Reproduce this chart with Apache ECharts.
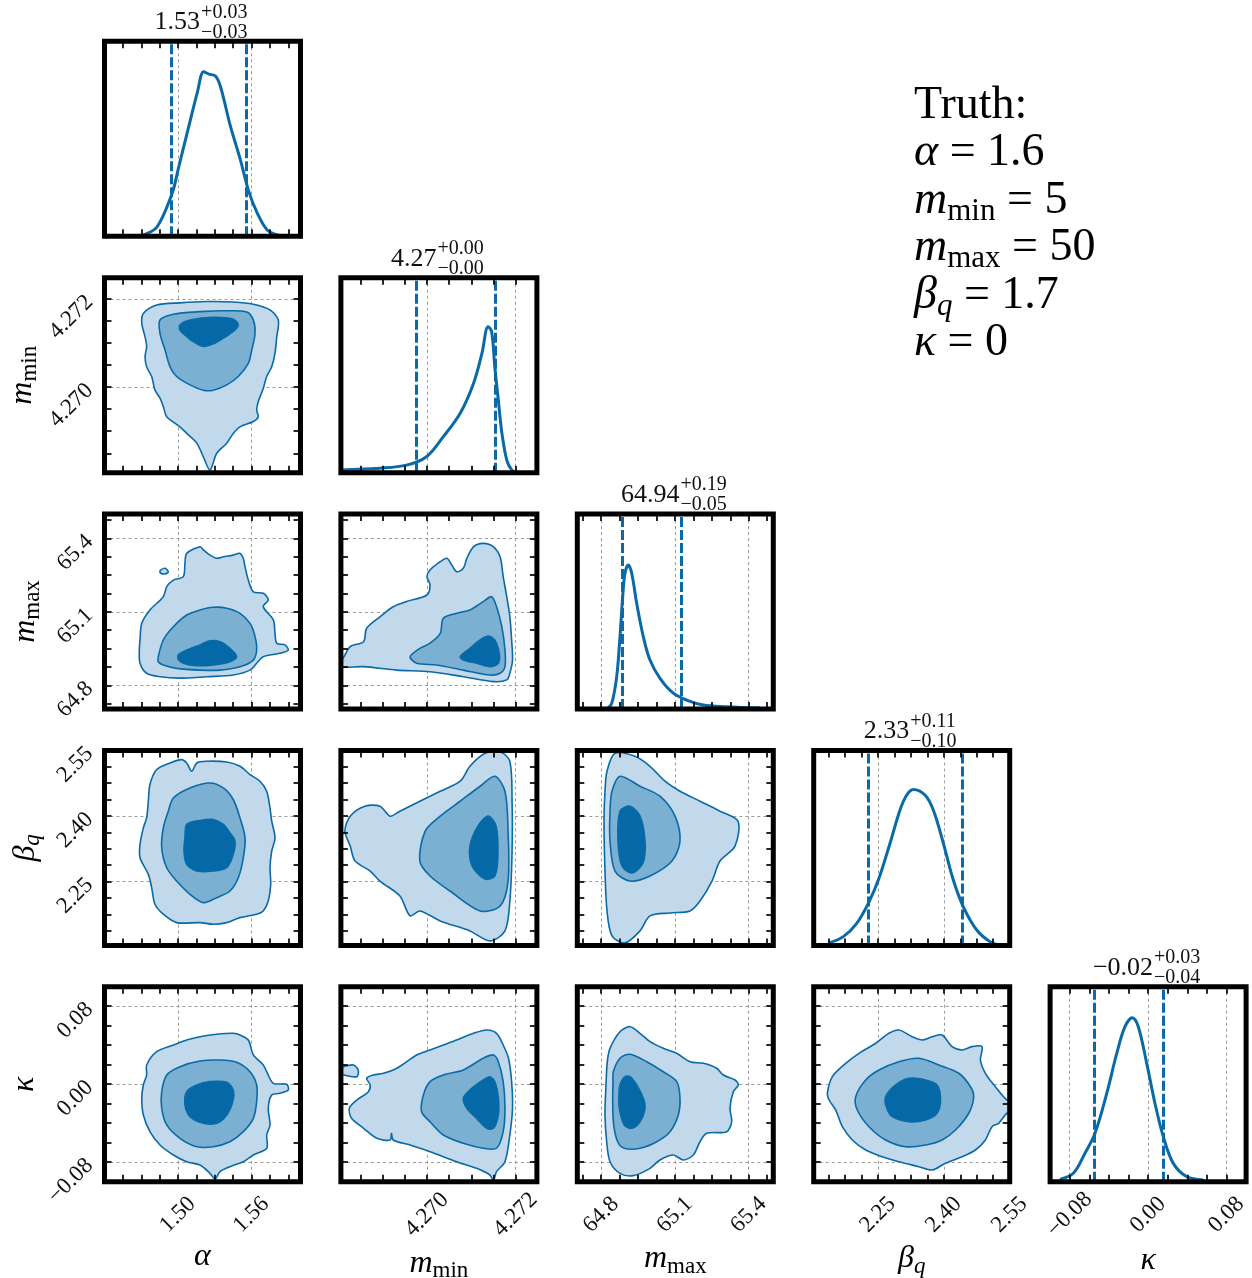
<!DOCTYPE html>
<html><head><meta charset="utf-8">
<script src="https://cdn.jsdelivr.net/npm/echarts@6/dist/echarts.min.js"></script>
<style>html,body{margin:0;padding:0;background:#fff}#c{width:1252px;height:1278px}</style>
</head><body><div id="c"></div>
<script>
// ---------------- DATA ----------------
const paramNames = ['{i|α}', '{i|m}{s|min}', '{i|m}{s|max}', '{i|β}{si|q}', '{i|κ}'];
const axisMin = [1.44, 4.26806, 64.703, 2.104, -0.1];
const axisMax = [1.60, 4.27248, 65.50, 2.55, 0.1];
const minorStep = [0.015, 0.0005, 0.075, 0.0375, 0.02];
const majorStep = [0.06, 0.002, 0.3, 0.15, 0.08];
const tickLabels = [[1.50, 1.56], [4.270, 4.272], [64.8, 65.1, 65.4], [2.25, 2.40, 2.55], [-0.08, 0.00, 0.08]];
const tickDecimals = [2, 3, 1, 2, 2];
const titleMain = ['1.53', '4.27', '64.94', '2.33', '−0.02'];
const titleUp = ['+0.03', '+0.00', '+0.19', '+0.11', '+0.03'];
const titleDown = ['−0.03', '−0.00', '−0.05', '−0.10', '−0.04'];
const q16 = [1.4943, 4.26977, 64.8876, 2.2283, -0.0549];
const q84 = [1.5561, 4.27153, 65.1247, 2.4431, 0.0155];
const truthText = 'Truth:\n{i|α} = 1.6\n{i|m}{s|min} = 5\n{i|m}{s|max} = 50\n{i|β}{si|q} = 1.7\n{i|κ} = 0';

// 1D marginal densities (normalised)
const kdeAlphaX = [1.466, 1.472, 1.483, 1.4953, 1.50, 1.5075, 1.5157, 1.521, 1.5251, 1.5306, 1.5347, 1.5429, 1.551, 1.5578, 1.5647, 1.5728, 1.581, 1.588];
const kdeAlphaY = [0, 0.007, 0.049, 0.222, 0.34, 0.53, 0.735, 0.844, 0.832, 0.822, 0.767, 0.562, 0.391, 0.229, 0.119, 0.032, 0.007, 0];
const kdeMminX = [4.26806, 4.26811, 4.26894, 4.26954, 4.26999, 4.27037, 4.27075, 4.27105, 4.27124, 4.27138, 4.27146, 4.27153, 4.27161, 4.27169, 4.2718, 4.27191, 4.272];
const kdeMminY = [0.012, 0.014, 0.023, 0.039, 0.082, 0.185, 0.305, 0.458, 0.612, 0.749, 0.723, 0.544, 0.373, 0.204, 0.065, 0.014, 0];
const kdeMmaxX = [64.8225, 64.8429, 64.8632, 64.8766, 64.8876, 64.897, 64.9104, 64.9242, 64.9445, 64.9714, 64.9986, 65.0393, 65.0933, 65.1478, 65.2153, 65.3105, 65.4459];
const kdeMmaxY = [0, 0.029, 0.166, 0.371, 0.576, 0.696, 0.738, 0.696, 0.542, 0.371, 0.251, 0.157, 0.081, 0.046, 0.021, 0.012, 0.005];
const kdeBetaX = [2.1372, 2.1714, 2.2019, 2.2283, 2.2511, 2.2777, 2.3004, 2.3157, 2.3307, 2.3573, 2.3762, 2.3990, 2.4217, 2.4445, 2.4750, 2.5053, 2.5280];
const kdeBetaY = [0.011, 0.045, 0.113, 0.216, 0.335, 0.524, 0.694, 0.771, 0.8, 0.771, 0.694, 0.524, 0.335, 0.198, 0.079, 0.019, 0.002];
const kdeKappaX = [-0.0899, -0.0763, -0.0644, -0.0542, -0.0422, -0.032, -0.0236, -0.0161, -0.01, -0.0014, 0.007, 0.0155, 0.0257, 0.0394, 0.0563];
const kdeKappaY = [0.012, 0.043, 0.146, 0.248, 0.453, 0.658, 0.795, 0.841, 0.795, 0.607, 0.402, 0.231, 0.094, 0.026, 0.009];

// 2D credible contours: level 1 (outer), 2, 3 (inner)
const cMminAlpha1 = [[1.4704,4.27145],[1.4717,4.27167],[1.4826,4.27186],[1.5016,4.27191],[1.5234,4.27194],[1.5451,4.27193],[1.5615,4.27188],[1.5751,4.27175],[1.5819,4.27152],[1.5806,4.27114],[1.5792,4.27077],[1.5765,4.27046],[1.5724,4.27024],[1.5696,4.26997],[1.5655,4.26967],[1.5642,4.26948],[1.5655,4.26933],[1.5615,4.26922],[1.5506,4.2691],[1.5451,4.26895],[1.5398,4.26873],[1.5316,4.2685],[1.5261,4.26812],[1.5207,4.26842],[1.5153,4.26873],[1.5071,4.26895],[1.5016,4.2691],[1.4908,4.26933],[1.488,4.26956],[1.4853,4.26975],[1.4812,4.26993],[1.4798,4.27009],[1.4785,4.27024],[1.4744,4.27046],[1.4731,4.27069],[1.4744,4.27092],[1.4731,4.27114]];
const cMminAlpha2 = [[1.4853,4.27152],[1.4962,4.27165],[1.518,4.27171],[1.5398,4.27173],[1.5561,4.2717],[1.5615,4.27152],[1.5629,4.27122],[1.5602,4.27084],[1.5574,4.27054],[1.5492,4.27024],[1.5398,4.27005],[1.5288,4.26993],[1.5207,4.26993],[1.5098,4.27005],[1.4989,4.27024],[1.4935,4.27046],[1.4894,4.27084],[1.4853,4.27122]];
const cMminAlpha3 = [[1.5016,4.27141],[1.5098,4.27152],[1.5288,4.27158],[1.5451,4.27154],[1.5492,4.27141],[1.5451,4.27126],[1.537,4.27111],[1.5288,4.27098],[1.5207,4.27092],[1.5125,4.27103],[1.5057,4.27118],[1.5016,4.27129]];

const cMmaxAlpha1 = [[1.469,64.985],[1.4704,65.053],[1.4771,65.108],[1.488,65.162],[1.4908,65.203],[1.4962,65.23],[1.5043,65.244],[1.5057,65.299],[1.5071,65.339],[1.518,65.366],[1.5207,65.353],[1.5261,65.332],[1.5316,65.319],[1.537,65.325],[1.5451,65.332],[1.5506,65.339],[1.5533,65.319],[1.5547,65.285],[1.5574,65.23],[1.5615,65.182],[1.5696,65.176],[1.5737,65.149],[1.5696,65.121],[1.5778,65.067],[1.5792,65.012],[1.5806,64.972],[1.5873,64.965],[1.59,64.944],[1.5833,64.931],[1.5696,64.917],[1.5642,64.89],[1.5588,64.862],[1.5451,64.842],[1.5234,64.835],[1.5016,64.829],[1.4853,64.835],[1.4744,64.849],[1.469,64.89],[1.4684,64.944]];
const cMmaxAlphaIsland = [[1.4853,65.268],[1.4894,65.278],[1.4921,65.264],[1.4894,65.255],[1.4859,65.258]];
const cMmaxAlpha2 = [[1.4839,64.917],[1.488,64.985],[1.4962,65.039],[1.5071,65.087],[1.518,65.108],[1.5288,65.119],[1.5398,65.115],[1.5506,65.094],[1.5588,65.053],[1.5629,64.999],[1.5642,64.944],[1.5615,64.903],[1.5506,64.876],[1.5343,64.862],[1.518,64.862],[1.4989,64.869],[1.488,64.883],[1.4839,64.896]];
const cMmaxAlpha3 = [[1.5002,64.924],[1.5071,64.944],[1.518,64.965],[1.5261,64.982],[1.5343,64.978],[1.5424,64.951],[1.5479,64.917],[1.5424,64.896],[1.5288,64.883],[1.5153,64.88],[1.5043,64.89],[1.5002,64.906]];

const cBetaAlpha1 = [[1.4826,2.5062],[1.4935,2.5212],[1.503,2.529],[1.5071,2.5212],[1.5112,2.5023],[1.5153,2.5212],[1.5234,2.5251],[1.5398,2.5235],[1.5506,2.5137],[1.5588,2.4947],[1.5669,2.4795],[1.5724,2.4566],[1.5751,2.4185],[1.5765,2.3882],[1.5792,2.3501],[1.5765,2.3197],[1.5751,2.2816],[1.5757,2.2437],[1.5737,2.2056],[1.5696,2.1828],[1.5642,2.1753],[1.5506,2.1675],[1.5398,2.1561],[1.5288,2.1524],[1.518,2.1561],[1.4989,2.1561],[1.488,2.1753],[1.4812,2.1981],[1.4785,2.236],[1.4758,2.2665],[1.469,2.3044],[1.469,2.335],[1.4717,2.3729],[1.4744,2.3957],[1.4758,2.4338],[1.4771,2.4719]];
const cBetaAlpha2 = [[1.4962,2.4413],[1.5098,2.4642],[1.5261,2.4756],[1.537,2.4642],[1.5451,2.4377],[1.5506,2.3957],[1.5547,2.3501],[1.5533,2.3044],[1.5492,2.2588],[1.5424,2.2284],[1.5316,2.2131],[1.5207,2.2017],[1.5098,2.2209],[1.4989,2.2512],[1.4908,2.2816],[1.4867,2.3272],[1.488,2.3729],[1.4921,2.411]];
const cBetaAlpha3 = [[1.5071,2.3806],[1.518,2.3898],[1.5288,2.3921],[1.537,2.3806],[1.5424,2.3615],[1.5465,2.3425],[1.5451,2.3122],[1.5398,2.2816],[1.5288,2.2741],[1.5153,2.2741],[1.5071,2.2894],[1.5049,2.3197],[1.5057,2.3501]];

const cKappaAlpha1 = [[1.4744,0.0197],[1.4826,0.0333],[1.4962,0.0402],[1.5071,0.0453],[1.518,0.0487],[1.5316,0.0512],[1.5451,0.0522],[1.5506,0.0505],[1.5574,0.0453],[1.5615,0.03],[1.5696,0.0197],[1.5724,0.0128],[1.5778,0.0009],[1.5887,-0.0001],[1.59,-0.0059],[1.5833,-0.0093],[1.5765,-0.0111],[1.5737,-0.0247],[1.5751,-0.0418],[1.5724,-0.0521],[1.5724,-0.0657],[1.5615,-0.0726],[1.5533,-0.0795],[1.5424,-0.0846],[1.5343,-0.0897],[1.5302,-0.0972],[1.5261,-0.0914],[1.518,-0.0829],[1.5071,-0.0795],[1.4962,-0.0726],[1.4853,-0.0624],[1.4771,-0.0487],[1.4717,-0.0316],[1.4704,-0.0145],[1.4717,-0.0008],[1.4744,0.0094]];
const cKappaAlpha2 = [[1.4908,0.0094],[1.5016,0.018],[1.518,0.0238],[1.5343,0.0248],[1.5479,0.0225],[1.5588,0.0128],[1.5642,-0.0008],[1.5642,-0.0179],[1.5615,-0.035],[1.5533,-0.0487],[1.5424,-0.059],[1.5288,-0.0641],[1.5153,-0.0641],[1.5016,-0.0555],[1.4908,-0.0418],[1.4867,-0.0247],[1.4867,-0.0077]];
const cKappaAlpha3 = [[1.5071,-0.0077],[1.5153,-0.0008],[1.5261,0.0026],[1.5398,0.002],[1.5451,-0.0059],[1.5447,-0.0179],[1.5398,-0.0316],[1.5316,-0.0401],[1.5207,-0.0401],[1.5098,-0.0333],[1.5057,-0.0213]];

const cMmaxMmin1 = [[4.268,64.876],[4.268,64.903],[4.26808,64.903],[4.26827,64.958],[4.26857,64.978],[4.26864,65.033],[4.26894,65.08],[4.26924,65.121],[4.26954,65.142],[4.27,65.169],[4.27007,65.21],[4.27,65.244],[4.27007,65.271],[4.2703,65.305],[4.27045,65.319],[4.27056,65.292],[4.27067,65.264],[4.27082,65.278],[4.2709,65.319],[4.27105,65.366],[4.27127,65.38],[4.2715,65.366],[4.27165,65.325],[4.27172,65.244],[4.2718,65.162],[4.27187,65.08],[4.27191,64.985],[4.27193,64.903],[4.27187,64.849],[4.2718,64.822],[4.2715,64.815],[4.27082,64.835],[4.27007,64.855],[4.26932,64.862],[4.26857,64.876]];
const cMmaxMmin2 = [[4.26962,64.917],[4.26984,64.951],[4.27007,64.972],[4.2703,65.012],[4.27037,65.074],[4.27067,65.094],[4.27097,65.108],[4.27127,65.142],[4.27146,65.162],[4.27157,65.121],[4.27169,65.039],[4.27176,64.944],[4.27176,64.876],[4.27165,64.849],[4.27142,64.842],[4.27082,64.862],[4.27022,64.883],[4.26977,64.89]];
const cMmaxMmin3 = [[4.27075,64.917],[4.27097,64.951],[4.2712,64.985],[4.27138,65.001],[4.27153,64.985],[4.27163,64.931],[4.27161,64.89],[4.27142,64.876],[4.27112,64.89],[4.27082,64.903]];

const cBetaMmin1 = [[4.26815,2.3654],[4.26827,2.3996],[4.2686,2.4224],[4.26894,2.4224],[4.26917,2.3996],[4.26939,2.411],[4.26984,2.4338],[4.2703,2.4566],[4.27075,2.4795],[4.27097,2.5137],[4.27131,2.5433],[4.27165,2.547],[4.27187,2.5251],[4.27192,2.4338],[4.27192,2.3197],[4.27187,2.2056],[4.27176,2.1372],[4.27142,2.1143],[4.27097,2.1372],[4.2703,2.16],[4.26984,2.1828],[4.26962,2.1714],[4.26939,2.217],[4.26894,2.2512],[4.26872,2.274],[4.26838,2.2969],[4.26827,2.3311]];
const cBetaMmin2 = [[4.26984,2.2969],[4.26996,2.3654],[4.2703,2.3996],[4.27075,2.4338],[4.2712,2.468],[4.27153,2.4909],[4.27176,2.4566],[4.27183,2.3654],[4.27183,2.2512],[4.27165,2.1942],[4.2712,2.1828],[4.27052,2.2284],[4.27007,2.2627]];
const cBetaMmin3 = [[4.27097,2.3311],[4.27115,2.3768],[4.27138,2.3996],[4.27156,2.3768],[4.2716,2.3083],[4.27153,2.2627],[4.27131,2.2558],[4.27102,2.2855]];

const cKappaMminIsland = [[4.268,0.018],[4.26811,0.018],[4.26834,0.0197],[4.26845,0.0146],[4.26842,0.0077],[4.26811,0.0094],[4.268,0.0094]];
const cKappaMmin1 = [[4.26864,0.006],[4.26879,0.0094],[4.26902,0.0112],[4.26932,0.0163],[4.26977,0.03],[4.27007,0.0351],[4.27037,0.0402],[4.27067,0.0453],[4.27105,0.0522],[4.27135,0.0556],[4.27157,0.0522],[4.27172,0.0402],[4.27184,0.0266],[4.27191,0.0026],[4.27193,-0.0247],[4.27187,-0.0521],[4.27176,-0.0795],[4.27157,-0.0897],[4.2715,-0.0983],[4.27142,-0.0931],[4.27112,-0.0863],[4.27067,-0.0795],[4.27007,-0.0692],[4.26962,-0.0624],[4.26924,-0.0572],[4.2692,-0.0504],[4.26917,-0.0572],[4.26887,-0.0555],[4.26857,-0.0452],[4.2683,-0.035],[4.26825,-0.0247],[4.26842,-0.0162],[4.26868,-0.0077],[4.26872,-0.0008]];
const cKappaMmin2 = [[4.26992,-0.0111],[4.27007,0.0026],[4.27037,0.0094],[4.27082,0.0146],[4.27127,0.0266],[4.2715,0.03],[4.27161,0.0231],[4.27172,0.0026],[4.27176,-0.0247],[4.27172,-0.0487],[4.27157,-0.0657],[4.27127,-0.0657],[4.27082,-0.0606],[4.27037,-0.0521],[4.27007,-0.0385],[4.26988,-0.0282]];
const cKappaMmin3 = [[4.27082,-0.0145],[4.27097,-0.0059],[4.27127,0.0043],[4.27142,0.0077],[4.27153,0.0026],[4.27161,-0.0145],[4.27161,-0.0316],[4.2715,-0.0452],[4.27135,-0.0452],[4.27112,-0.035],[4.2709,-0.0247]];

const cBetaMmax1 = [[64.8238,2.5023],[64.8563,2.5433],[64.9376,2.5365],[64.9986,2.5137],[65.0596,2.4795],[65.1206,2.4566],[65.2019,2.4338],[65.2832,2.411],[65.3564,2.3882],[65.3442,2.3311],[65.2832,2.2969],[65.2507,2.2512],[65.2019,2.2056],[65.1612,2.1828],[65.08,2.1782],[64.9986,2.1714],[64.958,2.1372],[64.897,2.1098],[64.8441,2.1258],[64.8238,2.1828],[64.8156,2.274],[64.8116,2.3882],[64.8156,2.4566]];
const cBetaMmax2 = [[64.8441,2.4566],[64.8766,2.4909],[64.958,2.468],[65.0393,2.4452],[65.1003,2.3996],[65.1206,2.3425],[65.0881,2.2969],[64.9986,2.2627],[64.9173,2.2512],[64.8563,2.274],[64.836,2.3425],[64.836,2.411]];
const cBetaMmax3 = [[64.8766,2.411],[64.9173,2.4224],[64.958,2.3996],[64.9783,2.3425],[64.9701,2.2923],[64.9254,2.2695],[64.8847,2.2855],[64.8685,2.3425]];

const cKappaMmax1 = [[64.836,0.0368],[64.8766,0.0538],[64.9173,0.059],[64.958,0.0522],[64.9986,0.0436],[65.0527,0.0368],[65.1072,0.0317],[65.1612,0.0231],[65.2153,0.0214],[65.2698,0.0163],[65.2966,0.0094],[65.3442,0.0043],[65.3576,-0.0008],[65.3373,-0.0077],[65.3239,-0.0247],[65.3308,-0.0385],[65.3105,-0.0487],[65.2292,-0.0504],[65.2019,-0.059],[65.1747,-0.0726],[65.134,-0.0777],[65.0933,-0.0726],[65.0393,-0.0777],[64.9986,-0.0863],[64.9307,-0.0938],[64.8766,-0.0914],[64.836,-0.0795],[64.8225,-0.059],[64.8156,-0.0316],[64.8197,-0.0008],[64.825,0.0231]];
const cKappaMmax2 = [[64.8494,0.0128],[64.8766,0.0266],[64.9173,0.0307],[64.9852,0.0231],[65.0527,0.0128],[65.1072,0.0026],[65.1206,-0.0145],[65.1137,-0.0316],[65.08,-0.0487],[65.0258,-0.059],[64.958,-0.0657],[64.894,-0.0657],[64.8672,-0.059],[64.8509,-0.0418],[64.8469,-0.0179],[64.8481,0.0026]];
const cKappaMmax3 = [[64.8766,-0.0008],[64.897,0.0077],[64.9173,0.0077],[64.9445,-0.0008],[64.9714,-0.0145],[64.9783,-0.0247],[64.958,-0.0385],[64.9242,-0.0452],[64.894,-0.0418],[64.8738,-0.0247],[64.8726,-0.0111]];

const cKappaBeta1 = [[2.1351,-0.0093],[2.1465,0.0077],[2.1769,0.0214],[2.2071,0.0317],[2.245,0.042],[2.2752,0.0522],[2.2979,0.0556],[2.3281,0.0487],[2.3508,0.0453],[2.3735,0.0487],[2.3962,0.0505],[2.4189,0.0385],[2.4416,0.0351],[2.4643,0.0385],[2.487,0.0385],[2.4834,0.0248],[2.4947,0.0112],[2.5174,-0.0026],[2.5437,-0.0162],[2.556,-0.0162],[2.556,-0.0298],[2.5437,-0.0298],[2.5249,-0.0401],[2.5097,-0.0436],[2.4947,-0.0572],[2.472,-0.0675],[2.4416,-0.0744],[2.4039,-0.0811],[2.3735,-0.088],[2.3433,-0.0846],[2.2979,-0.0795],[2.26,-0.0744],[2.2223,-0.0675],[2.1919,-0.0572],[2.1692,-0.0436],[2.1542,-0.0265],[2.139,-0.0162]];
const cKappaBeta2 = [[2.1996,-0.0128],[2.2223,0.0043],[2.2525,0.0146],[2.2979,0.0231],[2.3433,0.0266],[2.3887,0.0197],[2.4341,0.0112],[2.4607,-0.0026],[2.4681,-0.0128],[2.4568,-0.0298],[2.4266,-0.047],[2.3962,-0.0572],[2.3585,-0.0624],[2.3131,-0.0641],[2.2677,-0.0572],[2.2298,-0.0436],[2.2032,-0.0265]];
const cKappaBeta3 = [[2.2677,-0.0128],[2.2904,-0.0008],[2.3206,0.006],[2.3585,0.0043],[2.3848,-0.0008],[2.3926,-0.0162],[2.3848,-0.0298],[2.3585,-0.0367],[2.3206,-0.0385],[2.2827,-0.0333],[2.2691,-0.0231]];

const kdeX = [kdeAlphaX, kdeMminX, kdeMmaxX, kdeBetaX, kdeKappaX];
const kdeY = [kdeAlphaY, kdeMminY, kdeMmaxY, kdeBetaY, kdeKappaY];
// [polygon, level]  (row,col)
const contourSets = {
  '1,0': [[cMminAlpha1,0],[cMminAlpha2,1],[cMminAlpha3,2]],
  '2,0': [[cMmaxAlpha1,0],[cMmaxAlphaIsland,0],[cMmaxAlpha2,1],[cMmaxAlpha3,2]],
  '3,0': [[cBetaAlpha1,0],[cBetaAlpha2,1],[cBetaAlpha3,2]],
  '4,0': [[cKappaAlpha1,0],[cKappaAlpha2,1],[cKappaAlpha3,2]],
  '2,1': [[cMmaxMmin1,0],[cMmaxMmin2,1],[cMmaxMmin3,2]],
  '3,1': [[cBetaMmin1,0],[cBetaMmin2,1],[cBetaMmin3,2]],
  '4,1': [[cKappaMminIsland,0],[cKappaMmin1,0],[cKappaMmin2,1],[cKappaMmin3,2]],
  '3,2': [[cBetaMmax1,0],[cBetaMmax2,1],[cBetaMmax3,2]],
  '4,2': [[cKappaMmax1,0],[cKappaMmax2,1],[cKappaMmax3,2]],
  '4,3': [[cKappaBeta1,0],[cKappaBeta2,1],[cKappaBeta3,2]]
};

// ---------------- LAYOUT / STYLE ----------------
const FONT = '"Liberation Serif", "DejaVu Serif", serif';
const PL = [104.5, 340.9, 577.3, 813.7, 1050.1];
const PT = [41.3, 277.7, 514, 750.4, 986.7];
const PW = 196, PH = 195;
const BLUE = '#0a6aa7';
const FILLS = ['#c1d9ea', '#7cb0d2', '#0569a7'];

function fmtTick(v, p) {
  for (const t of tickLabels[p]) {
    if (Math.abs(v - t) < minorStep[p] * 0.02) {
      let s = t.toFixed(tickDecimals[p]);
      if (t < -1e-12) s = '−' + s.slice(1);
      return s;
    }
  }
  return '';
}
const nameRich = {
  i: {fontFamily: FONT, fontStyle: 'italic', fontSize: 32, lineHeight: 38, color: '#000'},
  s: {fontFamily: FONT, fontSize: 23, padding: [15, 0, 0, 0], lineHeight: 38, color: '#000'},
  si: {fontFamily: FONT, fontStyle: 'italic', fontSize: 23, padding: [15, 0, 0, 0], lineHeight: 38, color: '#000'}
};
const truthRich = {
  i: {fontFamily: FONT, fontStyle: 'italic', fontSize: 46, lineHeight: 47.5, color: '#000'},
  s: {fontFamily: FONT, fontSize: 31, padding: [22, 0, 0, 0], lineHeight: 47.5, color: '#000'},
  si: {fontFamily: FONT, fontStyle: 'italic', fontSize: 31, padding: [22, 0, 0, 0], lineHeight: 47.5, color: '#000'}
};
const tickStyle = {show: true, inside: true, length: 7, lineStyle: {color: '#000', width: 1.7}};
const gridLineStyle = {show: true, lineStyle: {color: '#909090', width: 0.9, type: [3, 3]}};

function valueAxis(g, p, extra) {
  return Object.assign({
    gridIndex: g, type: 'value', min: axisMin[p], max: axisMax[p],
    axisLine: {show: false, onZero: false}, splitLine: {show: false},
    axisTick: {show: false}, axisLabel: {show: false}
  }, extra);
}

const grids = [], xAxes = [], yAxes = [], series = [], graphics = [];
for (let r = 0; r < 5; r++) {
  for (let c = 0; c <= r; c++) {
    const g = grids.length;
    grids.push({left: PL[c], top: PT[r], width: PW, height: PH, show: true,
      backgroundColor: 'rgba(0,0,0,0)', borderColor: '#000', borderWidth: 5, z: 10,
      containLabel: false, outerBoundsMode: 'none'});
    const xi = xAxes.length, yi = yAxes.length;
    const showX = r === 4, showY = (c === 0 && r > 0);
    xAxes.push(valueAxis(g, c, {position: 'bottom', z: 11, minInterval: minorStep[c], maxInterval: minorStep[c],
      axisTick: tickStyle,
      axisLabel: {show: showX, rotate: 45, align: 'center', verticalAlign: 'middle', margin: 33,
        fontFamily: FONT, fontSize: 23, color: '#111', formatter: v => fmtTick(v, c),
        showMinLabel: true, showMaxLabel: true},
      name: showX ? paramNames[c] : '', nameLocation: 'middle', nameGap: 56,
      nameTextStyle: {rich: nameRich, fontFamily: FONT, fontSize: 32, color: '#000'}}));
    xAxes.push(valueAxis(g, c, {position: 'top', z: 11, minInterval: minorStep[c], maxInterval: minorStep[c], axisTick: tickStyle}));
    xAxes.push(valueAxis(g, c, {position: 'bottom', z: 1, minInterval: majorStep[c], maxInterval: majorStep[c], splitLine: gridLineStyle}));
    if (r === c) {
      yAxes.push({gridIndex: g, type: 'value', min: 0, max: 1, show: false, axisLine: {onZero: false}});
      series.push({type: 'line', xAxisIndex: xi, yAxisIndex: yi, silent: true, z: 3,
        data: kdeX[r].map((x, i) => [x, kdeY[r][i]]),
        smooth: 0.35, showSymbol: false, symbol: 'none',
        lineStyle: {color: BLUE, width: 3},
        markLine: {silent: true, symbol: ['none', 'none'], label: {show: false}, animation: false, precision: 8,
          lineStyle: {color: BLUE, width: 3, type: [10, 3]},
          data: [{xAxis: q16[r]}, {xAxis: q84[r]}]}});
    } else {
      yAxes.push(valueAxis(g, r, {position: 'left', z: 11, minInterval: minorStep[r], maxInterval: minorStep[r],
        axisTick: tickStyle,
        axisLabel: {show: showY, rotate: 45, margin: 15, fontFamily: FONT, fontSize: 23, color: '#111',
          formatter: v => fmtTick(v, r), showMinLabel: true, showMaxLabel: true},
        name: showY ? paramNames[r] : '', nameLocation: 'middle', nameGap: 60, nameRotate: 90,
        nameTextStyle: {rich: nameRich, fontFamily: FONT, fontSize: 32, color: '#000'}}));
      yAxes.push(valueAxis(g, r, {position: 'right', z: 11, minInterval: minorStep[r], maxInterval: minorStep[r], axisTick: tickStyle}));
      yAxes.push(valueAxis(g, r, {position: 'left', z: 1, minInterval: majorStep[r], maxInterval: majorStep[r], splitLine: gridLineStyle}));
      for (const [poly, lvl] of contourSets[r + ',' + c]) {
        series.push({type: 'custom', xAxisIndex: xi, yAxisIndex: yi, clip: true, silent: true, z: 2,
          data: poly,
          renderItem: (params, api) => {
            if (params.dataIndex !== 0) return null;
            return {type: 'polygon', shape: {points: poly.map(pt => api.coord(pt)), smooth: 0.3},
              style: {fill: FILLS[lvl], stroke: BLUE, lineWidth: 1.6}};
          }});
      }
    }
  }
}

// diagonal titles
const mctx = document.createElement('canvas').getContext('2d');
function tw(t, size) { mctx.font = size + 'px ' + FONT; return mctx.measureText(t).width; }
for (let p = 0; p < 5; p++) {
  const cx = PL[p] + PW / 2, top = PT[p];
  const wm = tw(titleMain[p], 26), ws = Math.max(tw(titleUp[p], 20), tw(titleDown[p], 20));
  const x0 = cx - (wm + ws) / 2 - 2;
  graphics.push({type: 'text', x: x0, y: top - 19, z: 1, style: {text: titleMain[p], fontFamily: FONT, fontSize: 26, fill: '#111', align: 'left', verticalAlign: 'middle'}});
  graphics.push({type: 'text', x: x0 + wm + 1, y: top - 29, z: 1, style: {text: titleUp[p], fontFamily: FONT, fontSize: 20, fill: '#111', align: 'left', verticalAlign: 'middle'}});
  graphics.push({type: 'text', x: x0 + wm + 1, y: top - 9, z: 1, style: {text: titleDown[p], fontFamily: FONT, fontSize: 20, fill: '#111', align: 'left', verticalAlign: 'middle'}});
}
graphics.push({type: 'text', x: 914, y: 82, z: 1, style: {text: truthText, rich: truthRich, fontFamily: FONT, fontSize: 46, lineHeight: 47.5, fill: '#000', align: 'left', verticalAlign: 'top'}});

const chart = echarts.init(document.getElementById('c'), null, {renderer: 'canvas'});
chart.setOption({animation: false, backgroundColor: '#fff', grid: grids, xAxis: xAxes, yAxis: yAxes, series: series, graphic: graphics});
</script></body></html>
